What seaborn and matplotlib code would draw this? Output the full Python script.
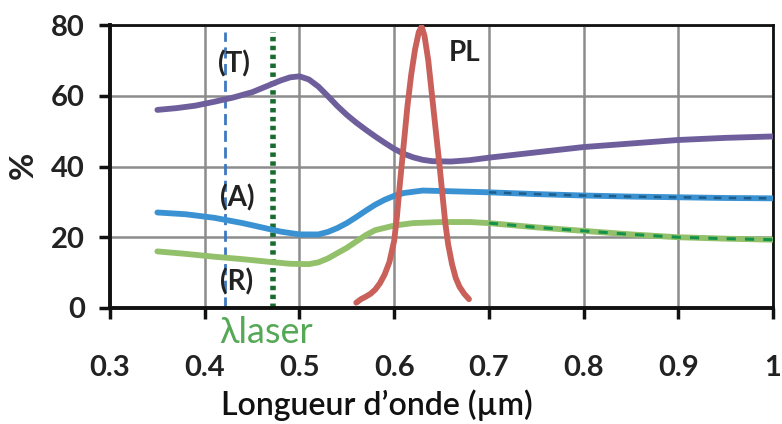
"""Transmission / absorption / reflection spectra with PL peak."""
import numpy as np
import pandas as pd
import seaborn as sns
import matplotlib.pyplot as plt

# (T) transmission
t_wl = [0.35, 0.37, 0.39, 0.41, 0.43, 0.45, 0.47, 0.48, 0.49, 0.50, 0.51, 0.52,
        0.53, 0.54, 0.55, 0.56, 0.57, 0.58, 0.59, 0.60, 0.61, 0.62, 0.63, 0.64,
        0.66, 0.68, 0.70, 0.75, 0.80, 0.85, 0.90, 0.95, 1.00]
t_val = [56, 56.5, 57.2, 58.3, 59.5, 61, 63.2, 64.3, 65.2, 65.5, 64.6, 62.6,
         59.9, 57.1, 54.6, 52.4, 50.4, 48.5, 46.7, 45, 43.6, 42.6, 41.9, 41.5,
         41.4, 41.8, 42.5, 44, 45.5, 46.5, 47.5, 48.1, 48.5]

# (A) absorption
a_wl = [0.35, 0.38, 0.41, 0.44, 0.46, 0.48, 0.50, 0.52, 0.53, 0.54, 0.55, 0.56,
        0.57, 0.58, 0.59, 0.60, 0.61, 0.63, 0.66, 0.70, 0.75, 0.80, 0.85, 0.90,
        0.95, 1.00]
a_val = [27, 26.5, 25.5, 24, 22.8, 21.6, 20.8, 20.8, 21.5, 22.6, 24, 25.7,
         27.5, 29.2, 30.6, 31.7, 32.5, 33.2, 33, 32.7, 32.2, 31.8, 31.5, 31.3,
         31.1, 31]

# (R) reflection
r_wl = [0.35, 0.38, 0.41, 0.44, 0.47, 0.49, 0.51, 0.52, 0.53, 0.55, 0.57, 0.58,
        0.60, 0.62, 0.65, 0.68, 0.70, 0.75, 0.80, 0.85, 0.90, 0.95, 1.00]
r_val = [16, 15.3, 14.5, 13.8, 13, 12.5, 12.4, 12.9, 14, 17, 20.6, 22,
         23.3, 24, 24.3, 24.3, 24, 22.8, 21.8, 20.8, 20, 19.6, 19.3]

# PL emission peak
pl_wl = [0.56, 0.565, 0.57, 0.575, 0.58, 0.585, 0.59, 0.595, 0.60, 0.603,
         0.606, 0.61, 0.614, 0.618, 0.622, 0.626, 0.629, 0.632, 0.636, 0.64,
         0.644, 0.648, 0.651, 0.654, 0.657, 0.661, 0.665, 0.669, 0.674, 0.679]
pl_val = [1.5, 2.5, 3.2, 4, 5.2, 7, 9.5, 13, 19, 26,
          35, 46, 57, 66, 73, 78, 79.5, 77, 70, 60,
          50, 40, 32, 24, 18, 12.5, 8.5, 6, 4, 2.5]

# fitted tails shown dashed beyond 0.7 µm
a_fit_wl = [0.70, 0.75, 0.80, 0.85, 0.90, 0.95, 1.00]
a_fit_val = [32.7, 32.2, 31.8, 31.5, 31.3, 31.1, 31]
r_fit_wl = [0.70, 0.75, 0.80, 0.85, 0.90, 0.95, 1.00]
r_fit_val = [24, 22.8, 21.8, 20.8, 20, 19.6, 19.3]

lambda_blue = 0.421
lambda_laser = 0.472

sns.set_style('white')
plt.rcParams['font.family'] = ['Lato', 'DejaVu Sans']

fig, ax = plt.subplots(figsize=(7.82, 4.24), dpi=100)
fig.subplots_adjust(left=0.1407, right=0.9885, top=0.941, bottom=0.2736)

lw = 4.2
sns.lineplot(data=pd.DataFrame({'wl': t_wl, 'v': t_val}), x='wl', y='v',
             color='#6e5f9c', lw=lw, ax=ax, zorder=3)
sns.lineplot(data=pd.DataFrame({'wl': a_wl, 'v': a_val}), x='wl', y='v',
             color='#3b92d2', lw=lw, ax=ax, zorder=3)
sns.lineplot(data=pd.DataFrame({'wl': r_wl, 'v': r_val}), x='wl', y='v',
             color='#93c06a', lw=lw, ax=ax, zorder=3)
sns.lineplot(data=pd.DataFrame({'wl': a_fit_wl, 'v': a_fit_val}), x='wl', y='v',
             color='#1d5d8c', lw=1.8, ls=(0, (3, 3)), ax=ax, zorder=4)
sns.lineplot(data=pd.DataFrame({'wl': r_fit_wl, 'v': r_fit_val}), x='wl', y='v',
             color='#12924a', lw=2.2, ls=(0, (3, 3)), ax=ax, zorder=4)
sns.lineplot(data=pd.DataFrame({'wl': pl_wl, 'v': pl_val}), x='wl', y='v',
             color='#c9605a', lw=lw, ax=ax, sort=False, zorder=5)

ax.plot([lambda_blue, lambda_blue], [0, 78], color='#3d78c0', lw=2,
        ls=(0, (4, 2)), zorder=2)
ax.plot([lambda_laser, lambda_laser], [0, 78], color='#1a6b30', lw=4,
        ls=(0, (0.8, 0.8)), zorder=2)

ax.set_xlim(0.3, 1.0)
ax.set_ylim(0, 80)
ax.set_xticks(np.arange(0.3, 1.01, 0.1))
ax.set_xticklabels(['0.3', '0.4', '0.5', '0.6', '0.7', '0.8', '0.9', '1'])
ax.set_yticks([0, 20, 40, 60, 80])
ax.grid(True, color='#8c8c8c', lw=1.8)
ax.set_axisbelow(True)
for s in ax.spines.values():
    s.set_color('#111111')
    s.set_linewidth(2)
ax.spines['left'].set_linewidth(2.8)
ax.spines['bottom'].set_linewidth(2.8)
ax.tick_params(axis='both', which='both', direction='out', length=8, width=2.5,
               color='#111111', labelsize=21, bottom=True, left=True)
ax.tick_params(axis='x', pad=26)
ax.tick_params(axis='y', pad=10)
for lab in ax.get_xticklabels() + ax.get_yticklabels():
    lab.set_fontweight('bold')
    lab.set_color('#222222')

ax.set_xlabel('Longueur d\u2019onde (\u00b5m)', fontsize=23, fontweight='semibold',
              color='#111111')
ax.xaxis.set_label_coords(0.403, -0.345)
ax.xaxis.label.set_va('center')
ax.set_ylabel('%', fontsize=24, fontweight='bold', color='#222222')
ax.yaxis.set_label_coords(-0.131, 0.505)
ax.yaxis.label.set_va('center')

txt = dict(fontsize=20, fontweight='bold', color='#222222', ha='center',
           va='center', zorder=6)
ax.text(0.431, 69, '(T)', **txt)
ax.text(0.434, 31, '(A)', **txt)
ax.text(0.434, 7.3, '(R)', **txt)
ax.text(0.674, 72, 'PL', **txt)
ax.text(0.465, -6.8, '\u03bblaser', fontsize=26, color='#55a855', ha='center',
        va='center', clip_on=False)

fig.savefig('out.png', dpi=100)
